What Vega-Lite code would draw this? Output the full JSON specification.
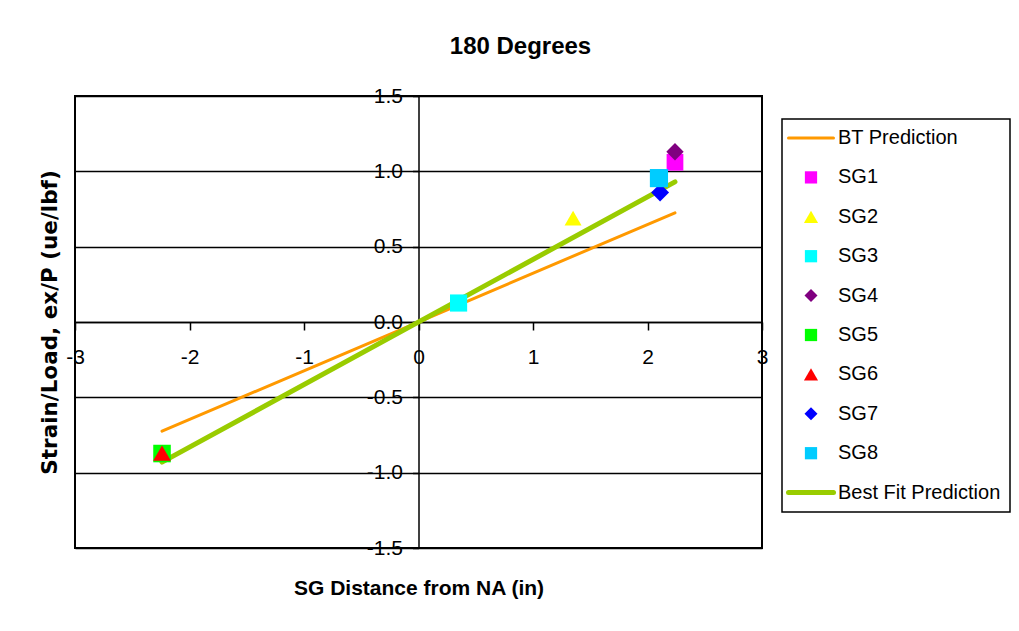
{
  "$schema": "https://vega.github.io/schema/vega-lite/v6.json",
  "width": 687,
  "height": 452,
  "autosize": "none",
  "padding": {"left": 75, "top": 96, "right": 257, "bottom": 83},
  "background": "white",
  "title": {
    "text": "180 Degrees",
    "font": "Liberation Sans, Arial",
    "fontSize": 24,
    "fontWeight": "bold",
    "color": "black",
    "anchor": "middle",
    "frame": "group",
    "dx": 102,
    "offset": 26
  },
  "config": {
    "view": {"stroke": "black", "strokeWidth": 2},
    "font": "Liberation Sans, Arial"
  },
  "datasets": {
    "lines": [
      {"series": "BT Prediction", "x": -2.24, "y": -0.725},
      {"series": "BT Prediction", "x": 2.24, "y": 0.725},
      {"series": "Best Fit Prediction", "x": -2.24, "y": -0.93},
      {"series": "Best Fit Prediction", "x": 2.24, "y": 0.93}
    ],
    "points": [
      {"series": "SG1", "x": 2.24, "y": 1.06},
      {"series": "SG2", "x": 1.35, "y": 0.69},
      {"series": "SG3", "x": 0.35, "y": 0.126},
      {"series": "SG4", "x": 2.24, "y": 1.13},
      {"series": "SG5", "x": -2.24, "y": -0.873},
      {"series": "SG6", "x": -2.24, "y": -0.87},
      {"series": "SG7", "x": 2.11, "y": 0.86},
      {"series": "SG8", "x": 2.10, "y": 0.955}
    ]
  },
  "layer": [
    {
      "data": {"name": "lines"},
      "mark": {"type": "line", "strokeCap": "round"},
      "encoding": {
        "x": {
          "field": "x", "type": "quantitative",
          "scale": {"domain": [-3, 3], "nice": false, "zero": false},
          "axis": {
            "orient": "bottom",
            "offset": -226,
            "values": [-3, -2, -1, 0, 1, 2, 3],
            "grid": false,
            "domainColor": "black",
            "domainWidth": 1.5,
            "tickColor": "black",
            "tickWidth": 1.5,
            "tickSize": 8,
            "labelFont": "Liberation Sans, Arial",
            "labelFontSize": 21,
            "labelColor": "black",
            "labelPadding": 16,
            "labelOverlap": false,
            "labelFlush": false,
            "labelBound": false,
            "labelExpr": "datum.value < 0 ? '-' + format(-datum.value, 'd') : format(datum.value, 'd')",
            "title": "SG Distance from NA (in)",
            "titleFont": "Liberation Sans, Arial",
            "titleFontSize": 21,
            "titleFontWeight": "bold",
            "titleColor": "black",
            "titleY": 266,
            "titleBaseline": "middle"
          }
        },
        "y": {
          "field": "y", "type": "quantitative",
          "scale": {"domain": [-1.5, 1.5], "nice": false, "zero": false},
          "axis": {
            "orient": "left",
            "offset": -343.5,
            "values": [-1.5, -1, -0.5, 0, 0.5, 1, 1.5],
            "grid": true,
            "gridColor": "black",
            "gridWidth": 1.5,
            "gridOpacity": 1,
            "domainColor": "black",
            "domainWidth": 1.5,
            "tickColor": "black",
            "tickWidth": 1.5,
            "tickSize": 6,
            "labelFont": "Liberation Sans, Arial",
            "labelFontSize": 21,
            "labelColor": "black",
            "labelPadding": 10,
            "labelOverlap": false,
            "labelFlush": false,
            "labelBound": false,
            "labelExpr": "datum.value < 0 ? '-' + format(-datum.value, '.1f') : format(datum.value, '.1f')",
            "title": "Strain/Load, ex/P (ue/lbf)",
            "titleFont": "DejaVu Sans",
            "titleFontSize": 21.5,
            "titleFontWeight": "bold",
            "titleColor": "black",
            "titleX": -368,
            "titleY": 226,
            "titleAngle": -90,
            "titleBaseline": "middle",
            "titleAlign": "center"
          }
        },
        "color": {
          "field": "series", "type": "nominal",
          "scale": {
            "domain": ["BT Prediction", "SG1", "SG2", "SG3", "SG4", "SG5", "SG6", "SG7", "SG8", "Best Fit Prediction"],
            "range": ["#FF9900", "#FF00FF", "#FFFF00", "#00FFFF", "#800080", "#00FF00", "#FF0000", "#0000FF", "#00CCFF", "#99CC00"]
          },
          "legend": {
            "orient": "none",
            "legendX": 707,
            "legendY": 23,
            "title": null,
            "strokeColor": "black",
            "padding": 9,
            "labelFont": "Liberation Sans, Arial",
            "labelFontSize": 20,
            "labelColor": "black",
            "labelLimit": 300,
            "symbolSize": 150,
            "symbolOffset": 10,
            "labelOffset": 17,
            "rowPadding": 19.4,
            "symbolStrokeWidth": 0,
            "encode": {
              "legend": {"update": {"strokeWidth": {"value": 1.5}}},
              "symbols": {
                "update": {
                  "size": {"signal": "datum.value == 'BT Prediction' || datum.value == 'Best Fit Prediction' ? 2025 : (datum.value == 'SG2' || datum.value == 'SG6' ? 200 : (datum.value == 'SG4' || datum.value == 'SG7' ? 170 : 150))"},
                  "strokeWidth": {"signal": "datum.value == 'BT Prediction' ? 3 : (datum.value == 'Best Fit Prediction' ? 5 : 0)"},
                  "stroke": {"signal": "scale('color', datum.value)"},
                  "fill": {"signal": "scale('color', datum.value)"},
                  "opacity": {"value": 1},
                  "strokeCap": {"value": "round"}
                }
              }
            }
          }
        },
        "strokeWidth": {
          "field": "series", "type": "nominal",
          "scale": {"domain": ["BT Prediction", "Best Fit Prediction"], "range": [3, 5]},
          "legend": null
        }
      }
    },
    {
      "data": {"name": "points"},
      "mark": {"type": "point", "filled": true, "opacity": 1},
      "encoding": {
        "x": {"field": "x", "type": "quantitative"},
        "y": {"field": "y", "type": "quantitative"},
        "color": {"field": "series", "type": "nominal"},
        "shape": {
          "field": "series", "type": "nominal",
          "scale": {
            "domain": ["BT Prediction", "SG1", "SG2", "SG3", "SG4", "SG5", "SG6", "SG7", "SG8", "Best Fit Prediction"],
            "range": ["stroke", "square", "triangle-up", "square", "diamond", "square", "triangle-up", "diamond", "square", "stroke"]
          }
        },
        "size": {
          "field": "series", "type": "nominal",
          "scale": {
            "domain": ["SG1", "SG2", "SG3", "SG4", "SG5", "SG6", "SG7", "SG8"],
            "range": [280, 330, 280, 260, 280, 330, 260, 280]
          },
          "legend": null
        }
      }
    }
  ]
}
